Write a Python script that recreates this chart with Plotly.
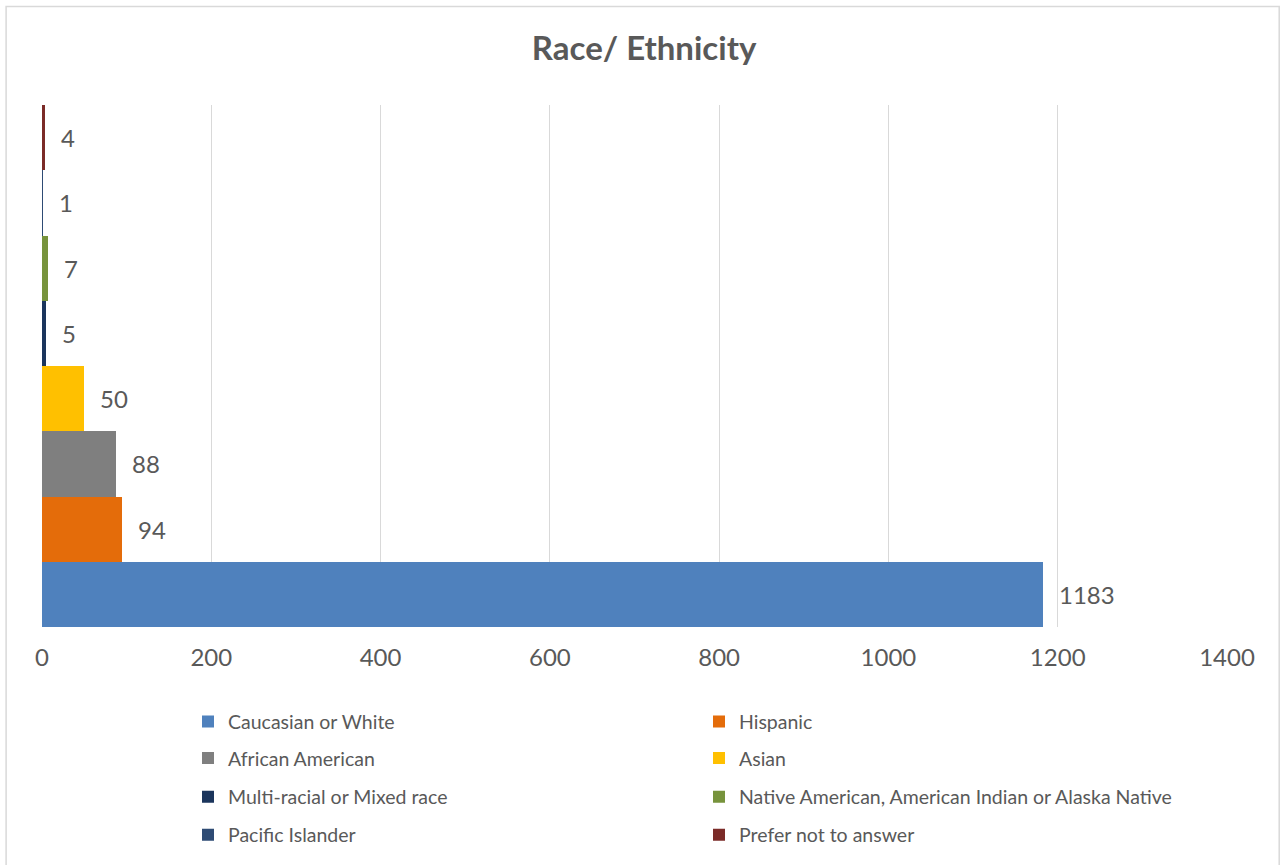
import plotly.graph_objects as go

# Respondent counts by race / ethnicity
categories = [
    "Caucasian or White",
    "Hispanic",
    "African American",
    "Asian",
    "Multi-racial or Mixed race",
    "Native American, American Indian or Alaska Native",
    "Pacific Islander",
    "Prefer not to answer",
]
counts = [1183, 94, 88, 50, 5, 7, 1, 4]
colors = ["#4F81BD", "#E46C0A", "#7F7F7F", "#FFC000",
          "#1B355C", "#77933C", "#2E4B74", "#7B2B28"]
x_ticks = [0, 200, 400, 600, 800, 1000, 1200, 1400]

W, H = 1281, 865
ML, MR, MT, MB = 42.4, 53.7, 105, 238
PW, PH = W - ML - MR, H - MT - MB

FONT = "Lato"
TXT = "#595959"

def px_x(px):
    return (px - ML) / PW

def px_y(py):
    return (H - MB - py) / PH

fig = go.Figure()
legend_ids = ["legend"] + [f"legend{k}" for k in range(2, 9)]
for i, (name, val, col) in enumerate(zip(categories, counts, colors)):
    fig.add_trace(go.Bar(
        x=[val], y=[i], width=1, orientation="h",
        name=name, marker=dict(color=col, line=dict(width=0)),
        legend=legend_ids[i], showlegend=True,
    ))
    fig.add_annotation(
        x=val, y=i, text=str(val), showarrow=False,
        xanchor="left", yanchor="middle", xshift=14,
        font=dict(family=FONT, size=24, color=TXT),
    )

# two-column legend below the plot: one legend box per entry
row_centers = [721.7, 758.3, 797, 835]
col_lefts = [188, 699]
legends = {}
for i, key in enumerate(legend_ids):
    row, col = divmod(i, 2)
    legends[key] = dict(
        orientation="h", xref="container", yref="container",
        xanchor="left", yanchor="middle",
        x=col_lefts[col] / W, y=1 - row_centers[row] / H,
        font=dict(family=FONT, size=19.5, color=TXT),
        bgcolor="rgba(0,0,0,0)", borderwidth=0,
    )

fig.update_layout(
    width=W, height=H,
    margin=dict(l=ML, r=MR, t=MT, b=MB, pad=0, autoexpand=False),
    paper_bgcolor="white", plot_bgcolor="white",
    barmode="overlay", bargap=0,
    title=dict(
        text="<b>Race/ Ethnicity</b>", x=0.5028, xanchor="center",
        y=1 - 48 / H, yanchor="middle",
        font=dict(family=FONT, size=33, color=TXT),
    ),
    xaxis=dict(
        range=[0, 1400], tickvals=x_ticks, ticks="",
        showgrid=True, gridcolor="#D9D9D9", gridwidth=1,
        zeroline=True, zerolinecolor="#D9D9D9", zerolinewidth=1,
        showline=False, ticklabelstandoff=14,
        tickfont=dict(family=FONT, size=24, color=TXT),
        fixedrange=True,
    ),
    yaxis=dict(
        range=[-0.5, 7.5], showticklabels=False, showgrid=False,
        zeroline=False, showline=False, fixedrange=True,
    ),
    shapes=[dict(
        type="rect", xref="paper", yref="paper",
        x0=px_x(6.5), x1=px_x(1279.5), y0=px_y(872), y1=px_y(6.5),
        line=dict(color="#D9D9D9", width=1.5), fillcolor="rgba(0,0,0,0)",
        layer="below",
    )],
    **legends,
)

fig.write_html("out.html")
